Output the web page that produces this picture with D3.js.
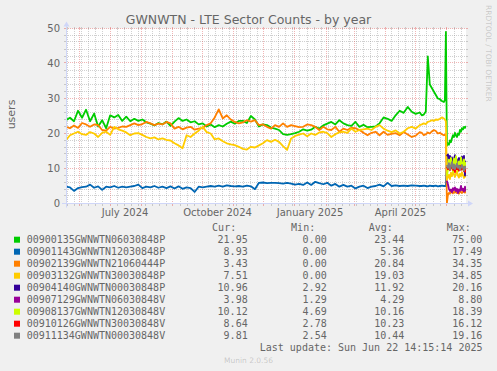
<!DOCTYPE html>
<html>
<head>
<meta charset="utf-8">
<title>GWNWTN - LTE Sector Counts - by year</title>
<script src="https://cdn.jsdelivr.net/npm/d3@7"></script>
<style>
  body { margin: 0; background: #f0f0f0; }
  svg { display: block; }
</style>
</head>
<body>
<svg id="sectorPlot"></svg>
<script>
// values (daily averages, users)
const seriesNames = [
  "00900135GWNWTN06030848P",
  "00901143GWNWTN12030848P",
  "00902139GWNWTN21060444P",
  "00903132GWNWTN30030848P",
  "00904140GWNWTN00030848P",
  "00907129GWNWTN06030848V",
  "00908137GWNWTN12030848V",
  "00910126GWNWTN30030848V",
  "00911134GWNWTN00030848V",
];
const seriesColors = ["#00CC00", "#0066B3", "#FF8000", "#FFCC00", "#330099", "#990099", "#CCFF00", "#FF0000", "#808080"];

const curValues = [21.95, 8.93, 3.43, 7.51, 10.96, 3.98, 10.12, 8.64, 9.81];
const minValues = [0.0, 0.0, 0.0, 0.0, 2.92, 1.29, 4.69, 2.78, 2.54];
const avgValues = [23.44, 5.36, 20.84, 19.03, 11.92, 4.29, 10.16, 10.23, 10.44];
const maxValues = [75.0, 17.49, 34.35, 34.85, 20.16, 8.8, 18.39, 16.12, 19.16];

// sample days counted from 2024-05-18 (every 4 days, then every 2, then daily)
const longDays = d3.range(0, 354, 4).concat(d3.range(354, 377, 2), d3.range(377, 400));
const shortDays = d3.range(379, 400);

const green = [
  23.8, 24.5, 23.5, 26.5, 24.5, 26.8, 23.5, 25.7, 22.0, 23.8,
  21.5, 25.2, 24.6, 25.3, 23.6, 24.8, 23.5, 24.2, 23.6, 24.0,
  23.2, 22.8, 22.3, 23.0, 22.6, 23.4, 22.2, 23.4, 24.4, 23.6,
  24.0, 23.2, 23.5, 22.6, 22.9, 22.0, 22.6, 21.8, 22.4, 22.0,
  22.8, 23.4, 22.8, 23.6, 23.6, 23.0, 25.0, 24.0, 22.0, 22.6,
  22.4, 21.7, 21.4, 21.0, 19.8, 19.6, 19.8, 20.1, 20.5, 21.2,
  20.8, 21.1, 21.9, 21.4, 22.3, 22.8, 23.3, 22.6, 23.8, 22.9,
  22.4, 22.2, 23.3, 21.9, 22.5, 21.8, 21.9, 22.0, 22.9, 24.6,
  24.2, 23.6, 25.2, 26.5, 25.9, 27.6, 26.2, 25.6, 26.0,
  25.2, 25.4, 26.3, 42.0, 34.0, 33.0, 32.0, 31.0, 30.0, 29.8, 29.3, 29.0,
  29.5, 49.0, 16.5, 17.2, 16.8, 18.0, 17.5, 18.6, 19.5, 19.0, 20.2, 19.4,
  19.0, 20.0, 19.6, 21.0, 20.5, 21.5, 21.2, 21.9, 21.6, 22.0, 21.95,
];
const blue = [
  4.8, 4.6, 3.6, 4.4, 4.7, 4.8, 5.4, 4.5, 4.9, 3.9,
  4.8, 4.6, 5.0, 4.5, 4.8, 4.6, 4.8, 5.0, 5.4, 4.4,
  4.8, 4.6, 5.0, 4.5, 4.8, 4.4, 4.9, 4.3, 4.9, 4.2,
  4.6, 4.4, 3.3, 4.8, 4.6, 4.8, 5.0, 4.8, 5.1, 4.8,
  5.2, 5.0, 4.9, 5.0, 4.8, 5.1, 4.9, 4.1, 5.9, 6.0,
  5.8, 5.9, 5.9, 5.8, 5.7, 5.9, 5.7, 5.4, 5.6, 5.3,
  6.0, 5.3, 6.2, 5.8, 5.5, 5.9, 5.1, 5.6, 4.8, 5.3,
  4.8, 5.1, 4.3, 4.8, 5.1, 4.4, 4.8, 5.0, 5.4, 4.9,
  5.9, 5.0, 5.2, 5.0, 5.1, 5.0, 5.2, 5.1, 5.0,
  5.0, 5.1, 5.0, 4.9, 5.1, 5.0, 5.0, 5.1, 4.9, 5.0, 5.1, 5.0,
  5.0, 5.0, 12.5, 13.8, 12.0, 13.0, 11.2, 12.4, 10.5, 11.8, 13.2, 11.0,
  12.2, 10.4, 11.6, 12.8, 10.8, 11.5, 9.8, 10.6, 9.5, 9.2, 8.93,
];
const orange = [
  21.9, 21.5, 22.3, 21.6, 23.0, 22.6, 21.9, 22.6, 22.4, 21.0,
  20.8, 21.9, 21.4, 21.6, 22.0, 21.9, 22.4, 22.9, 22.4, 22.7,
  23.3, 22.9, 22.4, 22.8, 22.6, 23.3, 22.9, 21.4, 21.9, 21.2,
  21.7, 21.9, 21.1, 21.4, 21.6, 22.4, 22.9, 24.6, 26.9, 24.3,
  25.2, 24.0, 23.3, 22.9, 23.2, 23.8, 23.4, 23.8, 22.4, 22.6,
  21.9, 21.4, 22.4, 21.9, 22.9, 21.9, 22.4, 22.1, 21.8, 21.9,
  22.6, 22.4, 21.9, 21.0, 21.9, 21.2, 21.0, 21.9, 20.5, 21.4,
  21.0, 21.6, 21.5, 21.0, 20.2, 19.5, 20.2, 20.5, 19.5, 20.5,
  19.6, 19.9, 20.1, 19.5, 20.4, 19.7, 19.0, 19.4, 20.4,
  20.2, 19.5, 19.8, 20.3, 20.0, 20.6, 21.0, 20.7, 20.0, 20.2, 19.8, 19.5,
  19.6, 19.8, 0.0, 2.5, 3.0, 2.8, 3.5, 3.2, 2.9, 3.4, 3.1, 3.6,
  3.0, 3.3, 2.8, 3.5, 3.2, 3.0, 3.6, 3.3, 3.1, 3.5, 3.43,
];
const yellow = [
  18.1, 19.5, 20.0, 20.5, 19.8, 19.6, 20.4, 20.0, 19.0, 20.2,
  20.5, 19.6, 21.9, 21.2, 20.8, 20.3, 19.5, 20.0, 20.1, 19.6,
  19.0, 18.6, 18.9, 18.3, 18.6, 18.2, 18.0, 17.2, 16.6, 15.8,
  19.5, 19.0, 20.0, 20.8, 21.9, 20.4, 20.0, 18.3, 18.6, 17.8,
  17.2, 16.9, 16.7, 16.2, 15.6, 15.4, 16.2, 16.0, 16.6, 17.2,
  18.1, 17.6, 18.2, 17.6, 16.4, 15.3, 18.6, 19.3, 19.7, 20.0,
  19.2, 20.0, 19.6, 20.3, 20.5, 20.1, 19.0, 19.8, 20.3, 20.5,
  20.2, 21.4, 20.5, 21.0, 21.2, 21.4, 21.0, 21.9, 22.4, 21.4,
  20.8, 20.4, 20.9, 20.0, 20.5, 21.5, 21.9, 21.4, 22.4,
  22.6, 22.9, 22.7, 23.3, 23.5, 23.8, 23.6, 24.0, 23.9, 24.2, 24.6, 24.3,
  24.0, 23.5, 6.8, 7.5, 8.2, 7.0, 8.8, 7.8, 9.0, 8.3, 7.6, 8.6,
  9.2, 8.0, 7.4, 8.5, 7.8, 8.9, 8.1, 7.3, 8.0, 7.7, 7.51,
];
const purple = [13.5, 14.0, 12.8, 13.6, 12.0, 13.2, 11.5, 12.6, 13.8, 12.2, 11.0, 12.5, 13.0, 11.8, 12.6, 13.4, 12.0, 13.6, 8.0, 12.0, 10.96];
const magenta = [6.5, 5.5, 4.2, 3.6, 4.0, 3.2, 4.4, 3.8, 4.6, 3.5, 4.2, 3.0, 4.0, 3.6, 5.0, 3.8, 4.2, 3.4, 4.8, 3.6, 3.98];
const lime = [8.0, 9.5, 12.5, 10.0, 13.0, 11.0, 9.0, 12.8, 10.5, 13.5, 11.2, 9.2, 12.0, 10.4, 13.2, 11.5, 9.6, 12.6, 10.8, 11.6, 10.12];
const red = [10.5, 9.8, 10.8, 9.5, 10.2, 11.0, 9.6, 10.4, 9.0, 10.6, 9.8, 10.2, 9.4, 10.8, 9.6, 9.9, 10.4, 9.2, 9.8, 9.0, 8.64];
const grey = [11.0, 10.2, 11.5, 9.6, 10.8, 11.8, 10.0, 11.2, 9.8, 10.6, 11.4, 10.2, 10.8, 9.6, 10.4, 11.0, 10.2, 9.4, 10.6, 10.0, 9.81];

const yTicks = [0, 10, 20, 30, 40, 50];

const seriesValues = [green, blue, orange, yellow, purple, magenta, lime, red, grey];
const seriesDays = [longDays, longDays, longDays, longDays, shortDays, shortDays, shortDays, shortDays, shortDays];

const size = { width: 497, height: 371 };
const plot = { left: 66, right: 466, top: 28.5, bottom: 203.5 };

const fontColor = "#666666";
const axisColor = "#CFD6F8";
const gridColor = "rgba(143,143,143,0.42)";
const mgridColor = "rgba(222,79,79,0.42)";

const svg = d3.select("#sectorPlot").attr("width", size.width).attr("height", size.height);

svg.append("rect").attr("width", size.width).attr("height", size.height).attr("fill", "#f0f0f0");
svg
  .append("rect")
  .attr("x", plot.left)
  .attr("y", plot.top)
  .attr("width", plot.right - plot.left)
  .attr("height", plot.bottom - plot.top)
  .attr("fill", "#ffffff");

const x = d3
  .scaleTime()
  .domain([new Date(2024, 4, 18, 5), new Date(2025, 5, 20, 4)])
  .range([plot.left, plot.right]);

const y = d3.scaleLinear().domain([0, 50]).range([plot.bottom, plot.top]);

const dayZero = new Date(2024, 4, 18, 4);
const dayDate = (d) => d3.timeDay.offset(dayZero, d);
const snap = (v) => Math.floor(v) + 0.5;

// grid
const grid = svg.append("g").attr("shape-rendering", "crispEdges");

const gridH = (yPos, color, tick) => {
  grid.append("line")
    .attr("x1", plot.left).attr("x2", plot.right)
    .attr("y1", yPos).attr("y2", yPos)
    .attr("stroke", color).attr("stroke-dasharray", "1,1");
  [[plot.left - tick, plot.left], [plot.right, plot.right + tick]].forEach(([a, b]) => {
    grid.append("line").attr("x1", a).attr("x2", b).attr("y1", yPos).attr("y2", yPos).attr("stroke", color);
  });
};

const gridV = (xPos, color, tick) => {
  grid.append("line")
    .attr("x1", xPos).attr("x2", xPos)
    .attr("y1", plot.top).attr("y2", plot.bottom)
    .attr("stroke", color).attr("stroke-dasharray", "1,1");
  [[plot.top - tick, plot.top], [plot.bottom, plot.bottom + tick]].forEach(([a, b]) => {
    grid.append("line").attr("x1", xPos).attr("x2", xPos).attr("y1", a).attr("y2", b).attr("stroke", color);
  });
};

const xDomain = x.domain();
const months = d3.timeMonth.range(xDomain[0], xDomain[1]);
const monthX = months.map((m) => snap(x(m)));

d3.timeMonday.range(xDomain[0], xDomain[1]).forEach((w) => {
  const xp = snap(x(w));
  if (monthX.some((mx) => Math.abs(mx - xp) < 2)) return;
  gridV(xp, gridColor, 2);
});

y.ticks(25).forEach((v) => {
  if (yTicks.includes(v)) return;
  gridH(snap(y(v) - 0.5), gridColor, 2);
});

monthX.forEach((xp) => gridV(xp, mgridColor, 2));
yTicks.forEach((v) => gridH(snap(y(v) - 0.5), mgridColor, 2));

// data lines
svg
  .append("clipPath")
  .attr("id", "plotClip")
  .append("rect")
  .attr("x", plot.left)
  .attr("y", plot.top - 10)
  .attr("width", plot.right - plot.left)
  .attr("height", plot.bottom - plot.top + 10);

const line = d3
  .line()
  .x((d) => x(dayDate(d.day)))
  .y((d) => y(d.value));

const lines = svg.append("g").attr("clip-path", "url(#plotClip)");

seriesValues.forEach((vals, i) => {
  const pts = vals.map((v, j) => ({ day: seriesDays[i][j], value: v }));
  lines
    .append("path")
    .datum(pts)
    .attr("d", line)
    .attr("fill", "none")
    .attr("stroke", seriesColors[i])
    .attr("stroke-width", 1.8)
    .attr("stroke-linejoin", "round");
});

// axes + arrows
const axes = svg.append("g");
axes.append("line")
  .attr("x1", plot.left - 4).attr("x2", plot.right + 4)
  .attr("y1", plot.bottom).attr("y2", plot.bottom)
  .attr("stroke", axisColor);
axes.append("line")
  .attr("x1", plot.left + 0.5).attr("x2", plot.left + 0.5)
  .attr("y1", plot.bottom + 4).attr("y2", plot.top - 4)
  .attr("stroke", axisColor);
axes.append("path")
  .attr("d", `M${plot.right + 2},${plot.bottom - 3}L${plot.right + 2},${plot.bottom + 3}L${plot.right + 7},${plot.bottom}Z`)
  .attr("fill", axisColor);
axes.append("path")
  .attr("d", `M${plot.left - 2.5},${plot.top - 2}L${plot.left + 3.5},${plot.top - 2}L${plot.left + 0.5},${plot.top - 7}Z`)
  .attr("fill", axisColor);

// axis labels
const sans = "DejaVu Sans, sans-serif";
const mono = "DejaVu Sans Mono, monospace";

yTicks.forEach((v) => {
  svg.append("text")
    .attr("x", 60)
    .attr("y", y(v) + 3.7)
    .attr("text-anchor", "end")
    .style("font-family", sans)
    .style("font-size", "10px")
    .attr("fill", fontColor)
    .text(v);
});

const labelFormat = d3.timeFormat("%B %Y");
months
  .filter((m) => m.getMonth() % 3 === 0)
  .forEach((m) => {
    svg.append("text")
      .attr("x", x(d3.timeDay.offset(m, 15)))
      .attr("y", 215.7)
      .attr("text-anchor", "middle")
      .style("font-family", sans)
      .style("font-size", "10px")
      .attr("fill", fontColor)
      .text(labelFormat(m));
  });

svg.append("text")
  .attr("transform", "translate(15,114.5) rotate(-90)")
  .attr("text-anchor", "middle")
  .style("font-family", sans)
  .style("font-size", "11px")
  .attr("fill", fontColor)
  .text("users");

svg.append("text")
  .attr("x", 248.5)
  .attr("y", 24.3)
  .attr("text-anchor", "middle")
  .style("font-family", sans)
  .style("font-size", "12.5px")
  .attr("fill", fontColor)
  .text("GWNWTN - LTE Sector Counts - by year");

svg.append("text")
  .attr("transform", "translate(485.5,5) rotate(90)")
  .style("font-family", sans)
  .style("font-size", "7.5px")
  .attr("fill", fontColor)
  .attr("fill-opacity", 0.3)
  .text("RRDTOOL / TOBI OETIKER");

// legend
const legend = svg.append("g").style("font-family", mono).style("font-size", "10px").attr("fill", fontColor);
const colRight = [247.7, 326.7, 404.3, 482.3];
const headers = ["Cur:", "Min:", "Avg:", "Max:"];

headers.forEach((h, i) => {
  legend.append("text").attr("x", colRight[i] - 11.5).attr("y", 230.7).attr("text-anchor", "end").text(h);
});

seriesNames.forEach((name, i) => {
  const base = 243.3 + 12 * i;
  legend.append("rect")
    .attr("x", 14).attr("y", base - 6.6)
    .attr("width", 6).attr("height", 6)
    .attr("fill", seriesColors[i]);
  legend.append("text").attr("x", 26.7).attr("y", base).text(name);
  [curValues, minValues, avgValues, maxValues].forEach((arr, c) => {
    legend.append("text")
      .attr("x", colRight[c]).attr("y", base)
      .attr("text-anchor", "end")
      .text(arr[i].toFixed(2));
  });
});

legend.append("text")
  .attr("x", 482.5).attr("y", 351)
  .attr("text-anchor", "end")
  .text("Last update: Sun Jun 22 14:15:14 2025");

svg.append("text")
  .attr("x", 248.5).attr("y", 363)
  .attr("text-anchor", "middle")
  .style("font-family", sans)
  .style("font-size", "7.5px")
  .attr("fill", fontColor)
  .attr("fill-opacity", 0.3)
  .text("Munin 2.0.56");
</script>
</body>
</html>
